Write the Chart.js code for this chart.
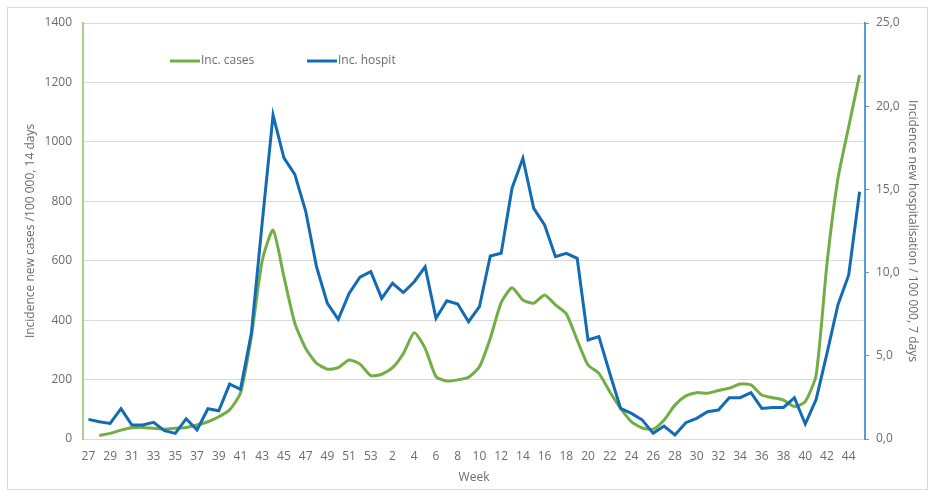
<!DOCTYPE html>
<html>
<head>
<meta charset="utf-8">
<script src="https://cdn.jsdelivr.net/npm/chart.js@4.4.1/dist/chart.umd.min.js"></script>
<style>
  html, body { margin: 0; padding: 0; background: #ffffff; }
  #wrap { position: relative; width: 936px; height: 497px; }
  #frame { position: absolute; left: 7px; top: 7px; width: 921px; height: 483px; border: 1px solid #d9d9d9; box-sizing: border-box; pointer-events: none; }
  canvas { position: absolute; left: 0; top: 0; }
</style>
</head>
<body>
<div id="wrap">
  <canvas id="c" width="936" height="497"></canvas>
  <div id="frame"></div>
</div>
<script>
const weeks = [27,28,29,30,31,32,33,34,35,36,37,38,39,40,41,42,43,44,45,46,47,48,49,50,51,52,53,
  1,2,3,4,5,6,7,8,9,10,11,12,13,14,15,16,17,18,19,20,21,22,23,24,25,26,27,28,29,30,31,32,33,34,35,36,37,38,39,40,41,42,43,44,45];

const incCases = [null,12,19,30,38,39,36,33,36,39,47,58,75,98,155,345,600,703,546,390,305,255,235,240,266,252,213,
  218,240,288,358,305,210,195,199,208,243,339,459,509,468,457,485,451,421,333,249,221,159,103,58,37,33,64,114,145,156,154,163,171,185,182,148,139,131,109,126,215,590,875,1051,1225];

const incHospit = [1.18,1.04,0.94,1.82,0.84,0.84,1.0,0.5,0.34,1.22,0.54,1.82,1.7,3.3,2.99,6.35,13.0,19.47,16.9,15.9,13.7,10.35,8.15,7.19,8.75,9.72,10.06,
  8.45,9.36,8.8,9.45,10.35,7.25,8.31,8.11,7.05,7.95,11.0,11.16,15.07,16.87,13.86,12.86,10.96,11.16,10.86,5.95,6.15,3.95,1.84,1.54,1.14,0.34,0.78,0.24,0.98,1.24,1.64,1.74,2.48,2.48,2.78,1.84,1.9,1.9,2.48,0.9,2.38,5.15,8.05,9.86,14.86];

const seriesNames = ['Inc. cases', 'Inc. hospit'];
const axisTitles = ['Incidence new cases /100 000, 14 days', 'Incidence new hospitalisation / 100 000, 7 days', 'Week'];

const GREEN = '#72AE45';
const BLUE = '#146BB5';
const TXT = '#6b6b6b';
const FONT = '"Open Sans", "Liberation Sans", sans-serif';

const legendPlugin = {
  id: 'inlineLegend',
  afterDraw(chart) {
    const ctx = chart.ctx;
    const ca = chart.chartArea;
    const y = ca.top + 38;
    const items = [
      { ds: chart.data.datasets[0], x: ca.left + 87 },
      { ds: chart.data.datasets[1], x: ca.left + 224 }
    ];
    ctx.save();
    ctx.font = '12px ' + FONT;
    ctx.textBaseline = 'middle';
    ctx.textAlign = 'left';
    items.forEach(it => {
      ctx.strokeStyle = it.ds.borderColor;
      ctx.lineWidth = 3;
      ctx.beginPath();
      ctx.moveTo(it.x, y);
      ctx.lineTo(it.x + 30, y);
      ctx.stroke();
      ctx.fillStyle = TXT;
      ctx.fillText(it.ds.label, it.x + 31, y);
    });
    ctx.restore();
  }
};

new Chart(document.getElementById('c'), {
  type: 'line',
  data: {
    labels: weeks.map(String),
    datasets: [
      { label: seriesNames[0], data: incCases, yAxisID: 'y', borderColor: GREEN, backgroundColor: GREEN,
        borderWidth: 3, pointRadius: 0, tension: 0.2, order: 1, spanGaps: false },
      { label: seriesNames[1], data: incHospit, yAxisID: 'y2', borderColor: BLUE, backgroundColor: BLUE,
        borderWidth: 3, pointRadius: 0, tension: 0, order: 0 }
    ]
  },
  options: {
    responsive: false,
    animation: false,
    devicePixelRatio: 1,
    layout: { padding: { top: 23, left: 0, right: 0, bottom: 0 } },
    plugins: { legend: { display: false }, tooltip: { enabled: false } },
    scales: {
      x: {
        offset: true,
        grid: { display: false, drawTicks: false },
        border: { display: true, color: '#d9d9d9', width: 1 },
        ticks: {
          autoSkip: false, maxRotation: 0, padding: 10, color: TXT,
          font: { family: FONT, size: 12 },
          callback: function(v, i) { return i % 2 === 0 ? this.getLabelForValue(v) : ''; }
        },
        title: { display: true, text: axisTitles[2], color: TXT, font: { family: FONT, size: 12 }, padding: { top: 4, bottom: 12 } },
        afterFit(scale) { scale.height = 58; }
      },
      y: {
        position: 'left', min: 0, max: 1400,
        grid: { color: '#d9d9d9', lineWidth: 1, drawTicks: false },
        border: { display: true, color: '#a9d18e', width: 2 },
        ticks: { stepSize: 200, padding: 11, color: TXT, font: { family: FONT, size: 12 },
          callback: v => String(v) },
        title: { display: true, text: axisTitles[0], color: TXT, font: { family: FONT, size: 12 }, padding: { top: 23, bottom: 0 } },
        afterFit(scale) { scale.width = 83; }
      },
      y2: {
        position: 'right', min: 0, max: 25,
        grid: { drawOnChartArea: false, drawTicks: true, tickLength: 4, color: '#5b9bd5', lineWidth: 1 },
        border: { display: true, color: '#5b9bd5', width: 2 },
        ticks: { stepSize: 5, padding: 7, color: TXT, font: { family: FONT, size: 12 },
          callback: v => v.toFixed(1).replace('.', ',') },
        title: { display: true, text: axisTitles[1], color: TXT, font: { family: FONT, size: 12 }, padding: { top: 16, bottom: 0 } },
        afterFit(scale) { scale.width = 71; }
      }
    }
  },
  plugins: [legendPlugin]
});
</script>
</body>
</html>
